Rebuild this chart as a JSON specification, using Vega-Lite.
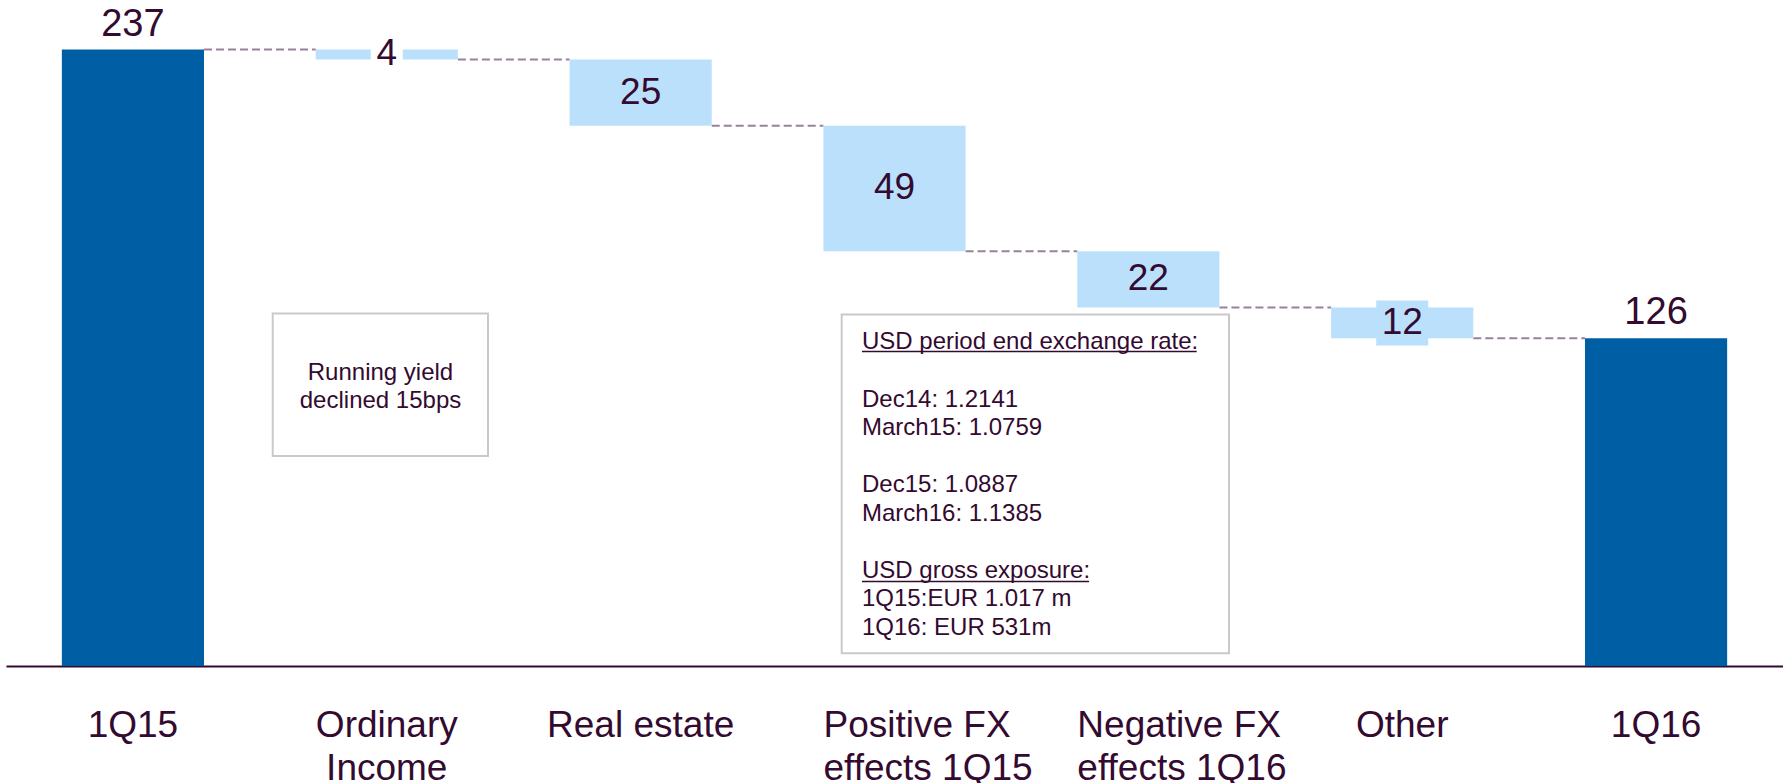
{
  "$schema": "https://vega.github.io/schema/vega-lite/v6.json",
  "width": 1777,
  "height": 666,
  "autosize": {"type": "none"},
  "padding": {"left": 6, "top": 0, "right": 0, "bottom": 117},
  "background": "white",
  "config": {
    "view": {"stroke": null},
    "font": "Liberation Sans"
  },
  "data": {"values": [
      {"cat": "1Q15", "start": 0, "end": 237, "label": "237", "kind": "total", "next": "Ordinary Income"},
      {"cat": "Ordinary Income", "start": 237, "end": 233.2, "label": "4", "kind": "delta", "next": "Real estate"},
      {"cat": "Real estate", "start": 233.2, "end": 207.7, "label": "25", "kind": "delta", "next": "Positive FX effects 1Q15"},
      {"cat": "Positive FX effects 1Q15", "start": 207.7, "end": 159.5, "label": "49", "kind": "delta", "next": "Negative FX effects 1Q16"},
      {"cat": "Negative FX effects 1Q16", "start": 159.5, "end": 137.8, "label": "22", "kind": "delta", "next": "Other"},
      {"cat": "Other", "start": 137.8, "end": 126, "label": "12", "kind": "delta", "next": "1Q16"},
      {"cat": "1Q16", "start": 0, "end": 126, "label": "126", "kind": "total", "next": ""}
  ]},
  "encoding": {
    "x": {"field": "cat", "type": "nominal", "title": null,
          "scale": {"domain": ["1Q15", "Ordinary Income", "Real estate", "Positive FX effects 1Q15", "Negative FX effects 1Q16", "Other", "1Q16"], "paddingInner": 0.44, "paddingOuter": 0.22},
          "axis": {"title": null, "domainColor": "#330a30", "domainWidth": 2, "ticks": false, "tickSize": 0, "grid": false,
                   "labelFont": "Liberation Sans", "labelFontSize": 37, "labelColor": "#330a30", "labelAngle": 0,
                   "labelAlign": {"condition": {"test": "indexof(datum.value, 'FX') >= 0", "value": "left"}, "value": "center"},
                   "labelOffset": {"condition": {"test": "indexof(datum.value, 'FX') >= 0", "value": -71}, "value": 0},
                   "labelBaseline": "alphabetic", "labelPadding": 70, "labelLineHeight": 43, "labelOverlap": false,
                   "labelBound": false, "labelFlush": false, "labelLimit": 0,
                   "labelExpr": "split(replace(replace(datum.value, 'Ordinary ', 'Ordinary|'), ' effects', '|effects'), '|')"}},
    "y": {"field": "end", "type": "quantitative", "scale": {"domain": [0, 256.05], "nice": false, "zero": false}, "axis": null}
  },
  "layer": [
    {
      "transform": [{"filter": "datum.next != ''"}],
      "mark": {"type": "rule", "color": "#97829a", "strokeWidth": 2, "strokeDash": [8, 4]},
      "encoding": {
        "x": {"field": "cat", "type": "nominal", "bandPosition": 1, "title": null},
        "x2": {"field": "next", "bandPosition": 0}
      }
    },
    {
      "mark": {"type": "bar"},
      "encoding": {
        "y": {"field": "start", "type": "quantitative"},
        "y2": {"field": "end"},
        "color": {"field": "kind", "type": "nominal", "scale": {"domain": ["total", "delta"], "range": ["#005EA4", "#BAE0FC"]}, "legend": null}
      }
    },
    {
      "transform": [{"filter": "datum.label == '4'"}, {"calculate": "(datum.start + datum.end) / 2", "as": "mid"}],
      "mark": {"type": "tick", "color": "white", "opacity": 1, "thickness": 30},
      "encoding": {
        "y": {"field": "mid", "type": "quantitative"},
        "size": {"value": 32}
      }
    },
    {
      "transform": [{"filter": "datum.label == '12'"}, {"calculate": "(datum.start + datum.end) / 2", "as": "mid"}],
      "mark": {"type": "tick", "color": "#BAE0FC", "opacity": 1, "thickness": 45},
      "encoding": {
        "y": {"field": "mid", "type": "quantitative"},
        "size": {"value": 52}
      }
    },
    {
      "transform": [{"filter": "datum.kind == 'delta'"}, {"calculate": "(datum.start + datum.end) / 2", "as": "mid"}],
      "mark": {"type": "text", "fontSize": 37, "align": "center", "baseline": "middle", "color": "#330a30", "font": "Liberation Sans"},
      "encoding": {
        "y": {"field": "mid", "type": "quantitative"},
        "text": {"field": "label", "type": "nominal"}
      }
    },
    {
      "transform": [{"filter": "datum.kind == 'total'"}],
      "mark": {"type": "text", "fontSize": 38, "align": "center", "baseline": "alphabetic", "dy": -14, "color": "#330a30", "font": "Liberation Sans"},
      "encoding": {
        "text": {"field": "label", "type": "nominal"}
      }
    },
    {
      "data": {"values": [{"from": "Ordinary Income", "to": "Ordinary Income", "top": 135.5, "bottom": 80.7}]},
      "mark": {"type": "rect", "fill": "white", "stroke": "#c9c9c9", "strokeWidth": 2},
      "encoding": {
        "x": {"field": "from", "type": "nominal", "bandPosition": -0.3025, "title": null},
        "x2": {"field": "to", "bandPosition": 1.212},
        "y": {"field": "top", "type": "quantitative"},
        "y2": {"field": "bottom"}
      }
    },
    {
      "data": {"values": [{"at": "Ordinary Income", "y": 110.1, "note": "Running yield\ndeclined 15bps"}]},
      "mark": {"type": "text", "fontSize": 24, "align": "center", "baseline": "alphabetic", "lineBreak": "\n", "lineHeight": 28.4, "color": "#330a30", "font": "Liberation Sans"},
      "encoding": {
        "x": {"field": "at", "type": "nominal", "bandPosition": 0.4558, "title": null},
        "y": {"field": "y", "type": "quantitative"},
        "text": {"field": "note", "type": "nominal"}
      }
    },
    {
      "data": {"values": [{"from": "Positive FX effects 1Q15", "to": "Negative FX effects 1Q16", "top": 135.1, "bottom": 4.9}]},
      "mark": {"type": "rect", "fill": "white", "stroke": "#c9c9c9", "strokeWidth": 2},
      "encoding": {
        "x": {"field": "from", "type": "nominal", "bandPosition": 0.1286, "title": null},
        "x2": {"field": "to", "bandPosition": 1.0673},
        "y": {"field": "top", "type": "quantitative"},
        "y2": {"field": "bottom"}
      }
    },
    {
      "data": {"values": [
        {"at": "Positive FX effects 1Q15", "y": 121.7, "note": "USD period end exchange rate:"},
        {"at": "Positive FX effects 1Q15", "y": 99.73, "note": "Dec14: 1.2141\nMarch15: 1.0759"},
        {"at": "Positive FX effects 1Q15", "y": 66.8, "note": "Dec15: 1.0887\nMarch16: 1.1385"},
        {"at": "Positive FX effects 1Q15", "y": 33.87, "note": "USD gross exposure:\n1Q15:EUR 1.017 m\n1Q16: EUR 531m"}
      ]},
      "mark": {"type": "text", "fontSize": 24, "align": "left", "baseline": "alphabetic", "lineBreak": "\n", "lineHeight": 28.55, "color": "#330a30", "font": "Liberation Sans"},
      "encoding": {
        "x": {"field": "at", "type": "nominal", "bandPosition": 0.2714, "title": null},
        "y": {"field": "y", "type": "quantitative"},
        "text": {"field": "note", "type": "nominal"}
      }
    },
    {
      "data": {"values": [{"from": "Positive FX effects 1Q15", "to": "Negative FX effects 1Q16", "y": 120.9}]},
      "mark": {"type": "rule", "color": "#330a30", "strokeWidth": 1.5},
      "encoding": {
        "x": {"field": "from", "type": "nominal", "bandPosition": 0.2714, "title": null},
        "x2": {"field": "to", "bandPosition": 0.84},
        "y": {"field": "y", "type": "quantitative"}
      }
    },
    {
      "data": {"values": [{"from": "Positive FX effects 1Q15", "to": "Negative FX effects 1Q16", "y": 32.5}]},
      "mark": {"type": "rule", "color": "#330a30", "strokeWidth": 1.5},
      "encoding": {
        "x": {"field": "from", "type": "nominal", "bandPosition": 0.2714, "title": null},
        "x2": {"field": "to", "bandPosition": 0.0824},
        "y": {"field": "y", "type": "quantitative"}
      }
    }
  ]
}
